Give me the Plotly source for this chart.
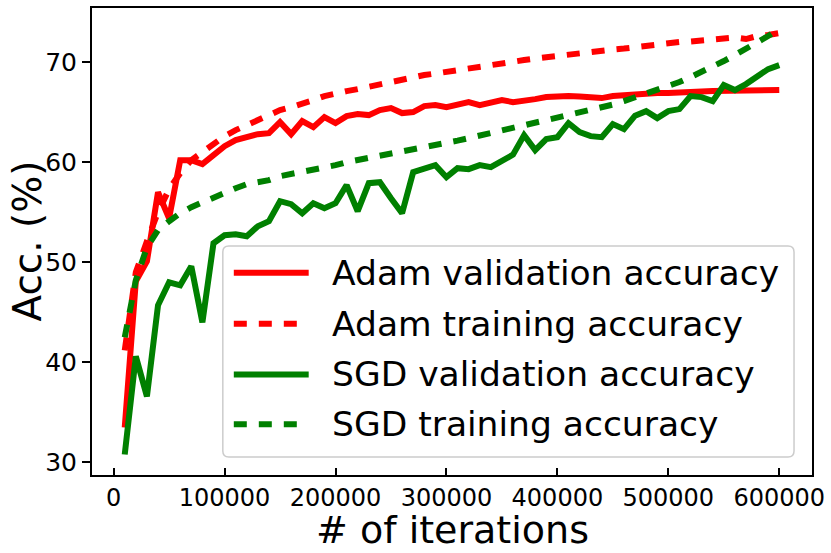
import plotly.graph_objects as go

iterations = [10000, 20000, 30000, 40000, 50000, 60000, 70000, 80000, 90000, 100000,
              110000, 120000, 130000, 140000, 150000, 160000, 170000, 180000, 190000, 200000,
              210000, 220000, 230000, 240000, 250000, 260000, 270000, 280000, 290000, 300000,
              310000, 320000, 330000, 340000, 350000, 360000, 370000, 380000, 390000, 400000,
              410000, 420000, 430000, 440000, 450000, 460000, 470000, 480000, 490000, 500000,
              510000, 520000, 530000, 540000, 550000, 560000, 570000, 580000, 590000, 600000]

adam_val = [33.5, 48.1, 50.1, 57.0, 54.4, 60.2, 60.2, 59.8, 60.7, 61.6,
            62.2, 62.5, 62.8, 62.9, 64.0, 62.8, 64.1, 63.5, 64.5, 63.9,
            64.6, 64.8, 64.7, 65.2, 65.4, 64.9, 65.0, 65.6, 65.7, 65.5,
            65.8, 66.0, 65.7, 66.0, 66.2, 66.0, 66.1, 66.3, 66.5, 66.6,
            66.6, 66.55, 66.4, 66.4, 66.6, 66.7, 66.8, 66.8, 66.9, 66.9,
            66.9, 67.0, 67.05, 67.1, 67.1, 67.1, 67.15, 67.15, 67.2, 67.2]

adam_train = [41.2, 49.0, 52.1, 55.0, 57.3, 58.9, 60.2, 61.0, 61.9, 62.6,
              63.2, 63.7, 64.2, 64.7, 65.2, 65.5, 65.8, 66.2, 66.6, 66.9,
              67.1, 67.3, 67.55, 67.8, 68.0, 68.2, 68.45, 68.7, 68.85, 69.0,
              69.15, 69.3, 69.5, 69.7, 69.9, 70.05, 70.2, 70.35, 70.5, 70.6,
              70.7, 70.85, 71.0, 71.1, 71.25, 71.35, 71.5, 71.6, 71.75, 71.9,
              72.0, 72.05, 72.15, 72.25, 72.35, 72.45, 72.3, 72.6, 72.7, 72.9]

sgd_val = [30.8, 40.6, 36.6, 45.7, 48.0, 47.7, 49.6, 44.0, 51.9, 52.7,
           52.8, 52.6, 53.6, 54.1, 56.1, 55.8, 54.9, 55.9, 55.4, 55.9,
           57.7, 55.1, 57.9, 58.0, 56.4, 54.9, 59.0, 59.4, 59.7, 58.5,
           59.4, 59.3, 59.7, 59.5, 60.2, 60.75, 62.7, 61.2, 62.3, 62.5,
           63.9, 63.0, 62.6, 62.5, 63.8, 63.3, 64.65, 65.1, 64.4, 65.1,
           65.3, 66.6, 66.5, 66.1, 67.7, 67.2, 67.8, 68.6, 69.3, 69.7]

sgd_train = [42.5, 48.2, 51.5, 53.2, 54.1, 54.9, 55.5, 56.0, 56.5, 56.9,
             57.4, 57.8, 58.0, 58.2, 58.6, 58.8, 59.0, 59.3, 59.5, 59.7,
             60.0, 60.2, 60.4, 60.65, 60.9, 61.15, 61.3, 61.5, 61.7, 61.9,
             62.15, 62.4, 62.65, 62.9, 63.2, 63.4, 63.6, 63.9, 64.15, 64.4,
             64.7, 64.95, 65.2, 65.5, 65.75, 66.1, 66.45, 66.85, 67.2, 67.6,
             68.0, 68.5, 69.0, 69.5, 70.1, 70.7, 71.3, 71.9, 72.6, 73.3]

series_names = ["Adam validation accuracy", "Adam training accuracy",
                "SGD validation accuracy", "SGD training accuracy"]
series_values = [adam_val, adam_train, sgd_val, sgd_train]
series_colors = ["#ff0000", "#ff0000", "#008000", "#008000"]
series_dash = ["solid", "13px,12px", "solid", "13px,12px"]

x_ticks = [0, 100000, 200000, 300000, 400000, 500000, 600000]
y_ticks = [30, 40, 50, 60, 70]

FONT = "DejaVu Sans"
W, H = 831, 553
ML, MR, MT, MB = 92, 18, 6, 78
PW, PH = W - ML - MR, H - MT - MB


def px_x(p):
    return (p - ML) / PW


def px_y(p):
    return (H - MB - p) / PH


fig = go.Figure()
for name, vals, col, dash in zip(series_names, series_values, series_colors, series_dash):
    fig.add_trace(go.Scatter(x=iterations, y=vals, mode="lines", name=name,
                             line=dict(color=col, width=6, dash=dash),
                             showlegend=False))

# manual legend (matplotlib-like)
x0, x1, y0, y1, r = px_x(223), px_x(795), px_y(245), px_y(457), 6
rx, ry = r / PW, r / PH
path = (f"M {x0+rx},{y0} L {x1-rx},{y0} Q {x1},{y0} {x1},{y0-ry} "
        f"L {x1},{y1+ry} Q {x1},{y1} {x1-rx},{y1} L {x0+rx},{y1} "
        f"Q {x0},{y1} {x0},{y1+ry} L {x0},{y0-ry} Q {x0},{y0} {x0+rx},{y0} Z")
shapes = [dict(type="path", path=path, xref="paper", yref="paper",
               line=dict(color="#cccccc", width=1.5),
               fillcolor="rgba(255,255,255,0.8)", layer="above")]
annotations = []
rows = [272, 323, 374, 424]
for name, col, dash, ry_ in zip(series_names, series_colors, series_dash, rows):
    shapes.append(dict(type="line", xref="paper", yref="paper",
                       x0=px_x(234), x1=px_x(309), y0=px_y(ry_), y1=px_y(ry_),
                       line=dict(color=col, width=6, dash=dash), layer="above"))
    annotations.append(dict(text=name, xref="paper", yref="paper",
                            x=px_x(330), y=px_y(ry_), xanchor="left", yanchor="middle",
                            showarrow=False, font=dict(family=FONT, size=34.5, color="black")))

annotations.append(dict(text="# of iterations", xref="paper", yref="paper",
                        x=0.5, y=px_y(530), xanchor="center", yanchor="middle",
                        showarrow=False, font=dict(family=FONT, size=38, color="black")))
annotations.append(dict(text="Acc. (%)", xref="paper", yref="paper",
                        x=px_x(27), y=0.5, xanchor="center", yanchor="middle",
                        textangle=-90, showarrow=False,
                        font=dict(family=FONT, size=39, color="black")))

fig.update_layout(
    width=W, height=H,
    margin=dict(l=ML, r=MR, t=MT, b=MB, pad=0),
    paper_bgcolor="white", plot_bgcolor="white",
    font=dict(family=FONT, color="black"),
    shapes=shapes, annotations=annotations,
    xaxis=dict(range=[-19500, 629500], tickvals=x_ticks,
               ticktext=[str(v) for v in x_ticks],
               ticks="inside", ticklen=7, tickwidth=1.5, tickcolor="black",
               showline=True, linecolor="black", linewidth=2, mirror=True,
               showgrid=False, zeroline=False,
               tickfont=dict(family=FONT, size=24, color="black")),
    yaxis=dict(range=[28.75, 75.4], tickvals=y_ticks,
               ticks="outside", ticklen=8, tickwidth=1.5, tickcolor="black",
               showline=True, linecolor="black", linewidth=2, mirror=True,
               showgrid=False, zeroline=False,
               tickfont=dict(family=FONT, size=25, color="black")),
)

fig.write_html("out.html", config={"displayModeBar": False},
               post_script="document.body.style.margin='0';document.body.style.padding='0';")
